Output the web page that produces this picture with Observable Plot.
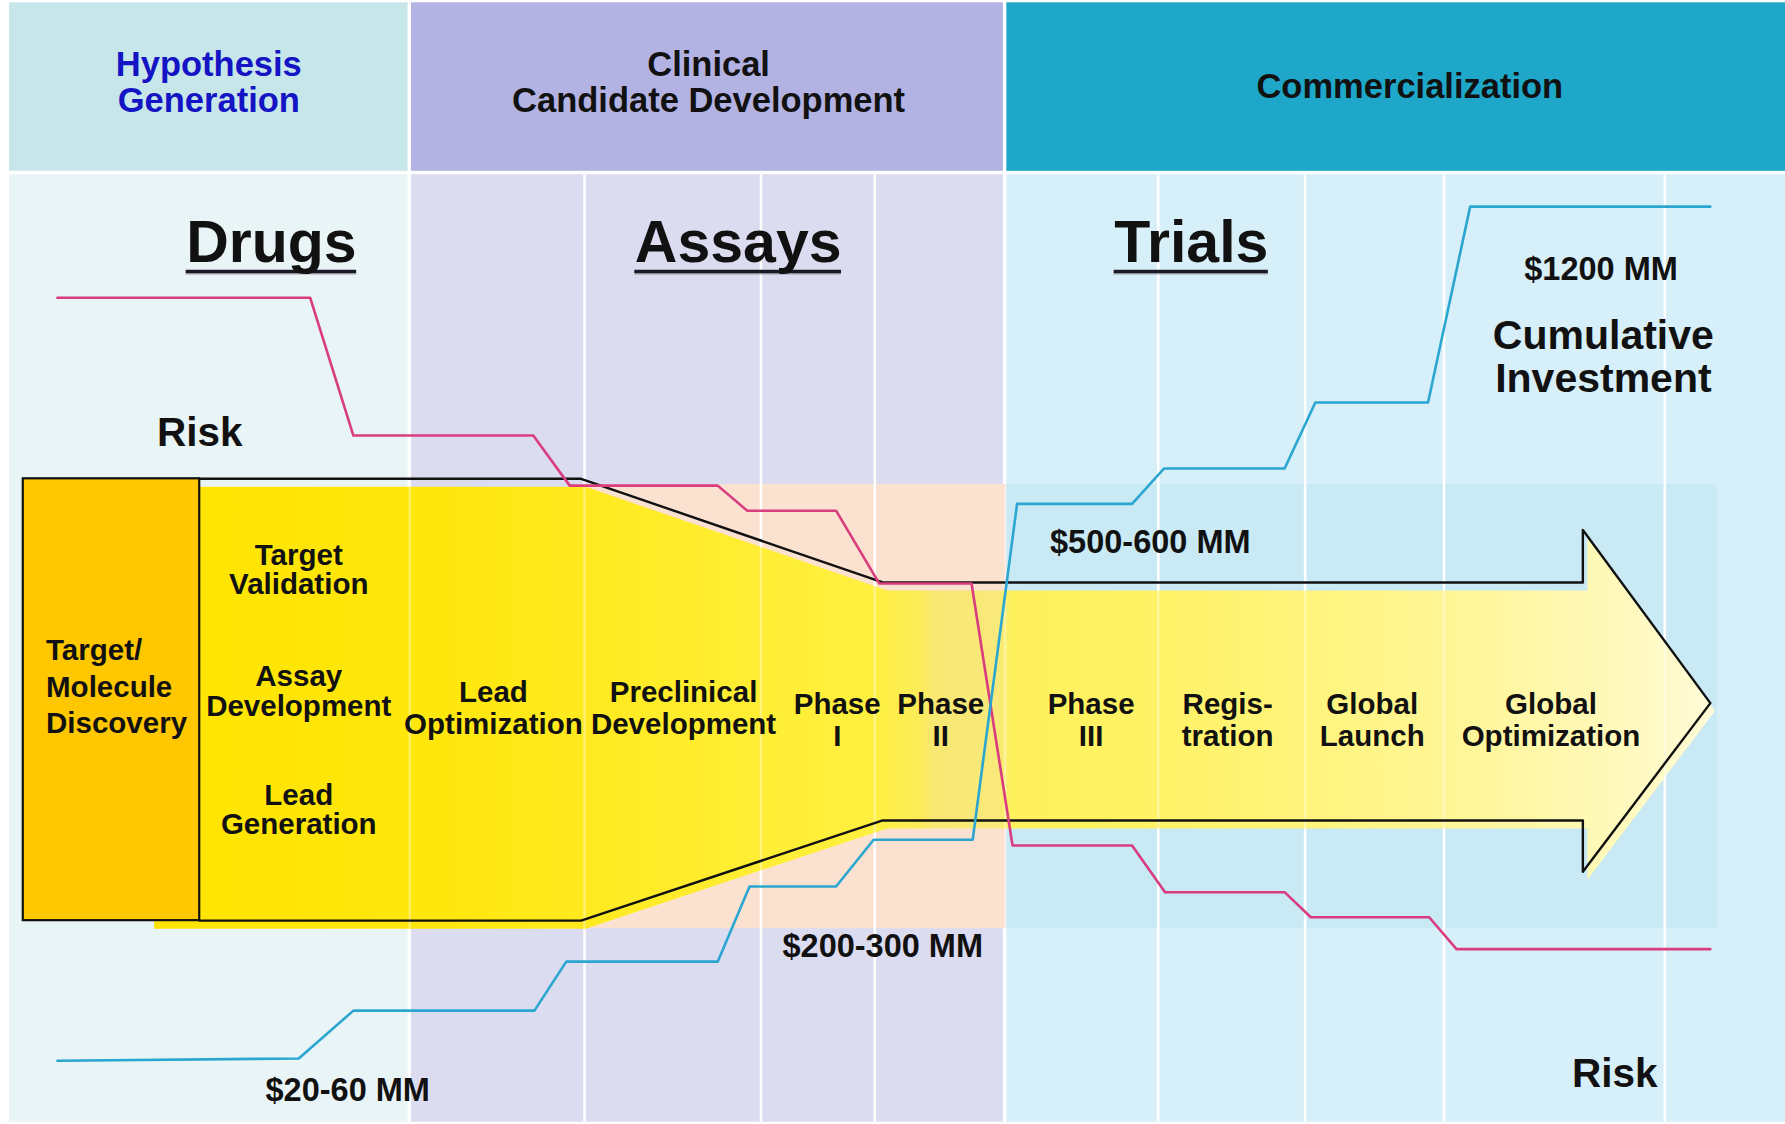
<!DOCTYPE html>
<html>
<head>
<meta charset="utf-8">
<script src="https://cdn.jsdelivr.net/npm/d3@7"></script>
<script src="https://cdn.jsdelivr.net/npm/@observablehq/plot@0.6"></script>
<style>
  html, body { margin: 0; padding: 0; background: #ffffff; }
  #chart svg { display: block; }
</style>
</head>
<body>
<div id="chart"></div>
<script>
// ---------------- DATA ----------------
// Timeline units: horizontal position along the pipeline, vertical level (top = 0)
const phases      = ["Hypothesis\nGeneration", "Clinical\nCandidate Development", "Commercialization"];
const phaseStart  = [8, 361, 884];
const phaseEnd    = [358, 881, 1568];
const phaseLabelAt = [183, 622, 1238];
const phaseLabelLevel = [72, 72, 75];
const stageBounds = [513, 668, 768, 1017, 1146, 1268, 1462];

const sections  = ["Drugs", "Assays", "Trials"];
const sectionAt = [238, 648, 1046];

const discovery = "Target/\nMolecule\nDiscovery";
const earlyStages   = ["Target\nValidation", "Assay\nDevelopment", "Lead\nGeneration"];
const earlyLevel    = [500, 607, 711];
const stages   = ["Lead\nOptimization", "Preclinical\nDevelopment", "Phase\nI", "Phase\nII",
                  "Phase\nIII", "Regis-\ntration", "Global\nLaunch", "Global\nOptimization"];
const stageAt  = [433, 600, 735, 826, 958, 1078, 1205, 1362];
const stageLevel = [621, 621, 632, 632, 632, 632, 632, 632];

// Risk (pink) step line
const riskX = [50, 272, 310, 468, 500, 630, 656, 734, 772, 853, 889, 994, 1023, 1128, 1151, 1255, 1279, 1502];
const riskY = [261, 261, 382, 382, 426, 426, 448, 448, 512, 512, 742, 742, 783, 783, 805, 805, 833, 833];

// Cumulative investment (blue) step line
const investX = [50, 262, 310, 469, 497, 630, 658, 734, 767, 854, 893, 994, 1022, 1128, 1155, 1254, 1291, 1502];
const investY = [931, 929, 887, 887, 844, 844, 778, 778, 737, 737, 442, 442, 411, 411, 353, 353, 181, 181];

const costLabels = ["$20-60 MM", "$200-300 MM", "$500-600 MM", "$1200 MM"];
const costAt     = [305, 775, 1010, 1406];
const costLevel  = [957, 831, 476, 236];

// Pipeline funnel / arrow outline
const pipeX = [175, 510, 775, 1390, 1390, 1502, 1390, 1390, 775, 510, 175];
const pipeY = [420, 420, 511, 511, 465, 617, 765, 720, 720, 808, 808];
const discoveryBox = [20, 175, 420, 808];

// ---------------- STYLE ----------------
const headerColors = ["#c6e6ea", "#b3b3e3", "#1ea7c9"];
const bodyColors   = ["#e9f4f6", "#dcdcf1", "#d7eff8"];
const FONT = "'Liberation Sans', Arial, Helvetica, sans-serif";
const W = 1785, H = 1124;

const idx = n => d3.range(n);
const riskData = riskX.map((x, i) => ({x, y: riskY[i]}));
const investData = investX.map((x, i) => ({x, y: investY[i]}));
const pipeData = pipeX.map((x, i) => ({x, y: pipeY[i]}));
// fill (slightly offset body of the funnel, starting a bit left under the box)
const pipeFill = pipeData.map((p, i) => ({x: (i === 0 || i === pipeData.length - 1) ? 135 : p.x + 4, y: p.y + 7}));

// measure text widths for underlines
const ctx = document.createElement("canvas").getContext("2d");
ctx.font = `bold 59px ${FONT}`;
const sx = W / 1568;
const underline = sections.map((s, i) => {
  const w = ctx.measureText(s).width / sx;
  return {x1: sectionAt[i] - w / 2, x2: sectionAt[i] + w / 2, y: 238};
});

const defs = () => {
  const ns = "http://www.w3.org/2000/svg";
  const d = document.createElementNS(ns, "defs");
  const g = document.createElementNS(ns, "linearGradient");
  g.setAttribute("id", "pipeGrad");
  g.setAttribute("x1", "0"); g.setAttribute("x2", "1");
  g.setAttribute("y1", "0"); g.setAttribute("y2", "0");
  [[0, "#ffe400"], [0.19, "#ffe70e"], [0.34, "#ffec2c"], [0.46, "#fff040"], [0.49, "#fbec58"],
   [0.5, "#f8e772"], [0.54, "#f8e97a"], [0.55, "#fff15c"], [0.63, "#fff264"], [0.74, "#fff47c"],
   [0.85, "#fff69c"], [0.94, "#fff9bc"], [1, "#fffbd8"]]
    .forEach(([o, c]) => {
      const s = document.createElementNS(ns, "stop");
      s.setAttribute("offset", o); s.setAttribute("stop-color", c);
      g.appendChild(s);
    });
  d.appendChild(g);
  const f = document.createElementNS(ns, "filter");
  f.setAttribute("id", "softShadow");
  f.setAttribute("x", "-10%"); f.setAttribute("y", "-20%");
  f.setAttribute("width", "130%"); f.setAttribute("height", "150%");
  const fe = document.createElementNS(ns, "feDropShadow");
  fe.setAttribute("dx", "2"); fe.setAttribute("dy", "3");
  fe.setAttribute("stdDeviation", "1.6");
  fe.setAttribute("flood-color", "#000"); fe.setAttribute("flood-opacity", "0.28");
  f.appendChild(fe);
  d.appendChild(f);
  return d;
};

const chart = Plot.plot({
  width: W,
  height: H,
  margin: 0,
  x: {domain: [0, 1568], range: [0, W], axis: null},
  y: {domain: [0, 987], range: [0, H], axis: null},
  style: {background: "#ffffff", fontFamily: FONT},
  marks: [
    defs,
    // phase header and body panels
    Plot.rect(idx(3), {x1: i => phaseStart[i], x2: i => phaseEnd[i], y1: 2, y2: 150, fill: i => headerColors[i]}),
    Plot.rect(idx(3), {x1: i => phaseStart[i], x2: i => phaseEnd[i], y1: 153, y2: 985, fill: i => bodyColors[i]}),
    // bands behind the pipeline
    Plot.rect([0], {x1: 505, x2: 884, y1: 425, y2: 815, fill: "#fbe1cf"}),
    Plot.rect([0], {x1: 884, x2: 1508, y1: 425, y2: 815, fill: "#c9e9f5"}),
    // stage divider lines
    Plot.ruleX(stageBounds, {y1: 153, y2: 985, stroke: "#ffffff", strokeWidth: 2.5}),
    // pipeline body
    Plot.line(pipeFill, {x: "x", y: "y", fill: "url(#pipeGrad)", stroke: "none", curve: "linear-closed"}),
    Plot.ruleX([359.5, 882.5, ...stageBounds], {y1: 427, y2: 815, stroke: "#ffffff", strokeOpacity: 0.35, strokeWidth: 2.5}),
    Plot.rect([0], {x1: discoveryBox[0], x2: discoveryBox[1], y1: discoveryBox[2], y2: discoveryBox[3], fill: "#ffc700", stroke: "#111", strokeWidth: 2.2}),
    Plot.line(pipeData, {x: "x", y: "y", stroke: "#111", strokeWidth: 2.4}),
    // risk & investment lines
    Plot.line(riskData, {x: "x", y: "y", stroke: "#d93c7f", strokeWidth: 2.6}),
    Plot.line(investData, {x: "x", y: "y", stroke: "#2aa6d1", strokeWidth: 2.6}),
    // headers
    Plot.text(idx(3), {x: i => phaseLabelAt[i], y: i => phaseLabelLevel[i], text: i => phases[i],
      fontSize: 34.5, fontWeight: "bold", lineHeight: 1.05, fill: i => i === 0 ? "#1414c4" : "#111", ariaLabel: "phase-headers"}),
    // section titles
    Plot.ruleY(underline, {x1: "x1", x2: "x2", y: d => d.y + 1.6, stroke: "#888", strokeOpacity: 0.5, strokeWidth: 3}),
    Plot.ruleY(underline, {x1: "x1", x2: "x2", y: "y", stroke: "#1a1a26", strokeWidth: 3.5}),
    Plot.text(idx(3), {x: i => sectionAt[i], y: 213, text: i => sections[i], fontSize: 59, fontWeight: "bold", fill: "#111"}),
    // risk labels
    Plot.text(["Risk", "Risk"], {x: (d, i) => [175, 1418][i], y: (d, i) => [380, 943][i], text: d => d, fontSize: 40.5, fontWeight: "bold", fill: "#111"}),
    // cumulative investment label
    Plot.text(["Cumulative\nInvestment"], {x: 1408, y: 313, text: d => d, fontSize: 41, fontWeight: "bold", lineHeight: 1.03, fill: "#111"}),
    // cost labels
    Plot.text(idx(4), {x: i => costAt[i], y: i => costLevel[i], text: i => costLabels[i], fontSize: 32.5, fontWeight: "bold", fill: "#111"}),
    // stage labels
    Plot.text([discovery], {x: 40, y: 601, text: d => d, textAnchor: "start", fontSize: 29.5, fontWeight: "bold", lineHeight: 1.23, fill: "#111"}),
    Plot.text(idx(3), {x: 262, y: i => earlyLevel[i], text: i => earlyStages[i], fontSize: 29.5, fontWeight: "bold", lineHeight: 1.0, fill: "#111"}),
    Plot.text(idx(stages.length), {x: i => stageAt[i], y: i => stageLevel[i], text: i => stages[i], fontSize: 29.5, fontWeight: "bold", lineHeight: 1.08, fill: "#111"})
  ]
});

d3.select(chart).selectAll('g[aria-label="phase-headers"]').attr("filter", "url(#softShadow)");
document.getElementById("chart").appendChild(chart);
</script>
</body>
</html>
